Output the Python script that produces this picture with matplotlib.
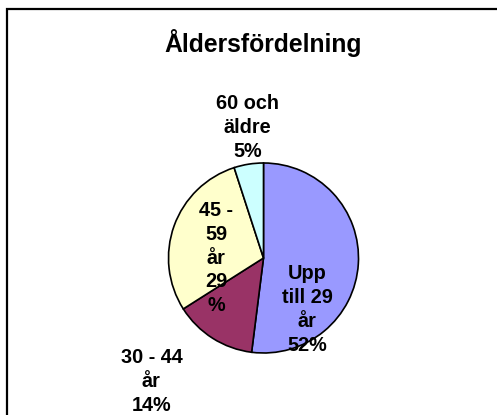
import matplotlib
matplotlib.use("Agg")
import matplotlib.pyplot as plt
from matplotlib.patches import Rectangle

plt.rcParams["font.family"] = ["Liberation Sans", "DejaVu Sans"]

TITLE = "Åldersfördelning"
LABELS = ["Upp\ntill 29\når\n52%", "30 - 44\når\n14%", "45 -\n59\når\n29\n%", "60 och\näldre\n5%"]
SHARES = [52, 14, 29, 5]
COLORS = ["#9999FF", "#993366", "#FFFFCC", "#CCFFFF"]
# label positions in pie units (radius 1)
LABEL_POS = [(0.46, -0.54), (-1.18, -1.30), (-0.50, 0.0), (-0.17, 1.37)]

W, H = 497, 415
fig = plt.figure(figsize=(W / 100, H / 100), dpi=100)

# frame (only left and top edges are visible in the crop)
fig.patches.append(Rectangle((7 / W, -0.1), 1.0, (H - 9) / H + 0.1,
                             transform=fig.transFigure, fill=False,
                             edgecolor="black", linewidth=1.6))

cx, cy, r = 263.5, 258, 95
ax = fig.add_axes([(cx - r) / W, (H - cy - r) / H, 2 * r / W, 2 * r / H])
ax.pie(SHARES, colors=COLORS, startangle=90, counterclock=False, radius=1,
       wedgeprops=dict(edgecolor="black", linewidth=1.2))
ax.set_xlim(-1, 1)
ax.set_ylim(-1, 1)
ax.set_aspect("equal")
ax.axis("off")

for lab, (x, y) in zip(LABELS, LABEL_POS):
    ax.text(x, y, lab, ha="center", va="center", fontsize=14.3, fontweight="bold",
            linespacing=1.33, clip_on=False)

fig.text(0.529, 1 - 43 / H, TITLE, ha="center", va="center",
         fontsize=17.8, fontweight="bold")

fig.savefig("out.png", dpi=100)
